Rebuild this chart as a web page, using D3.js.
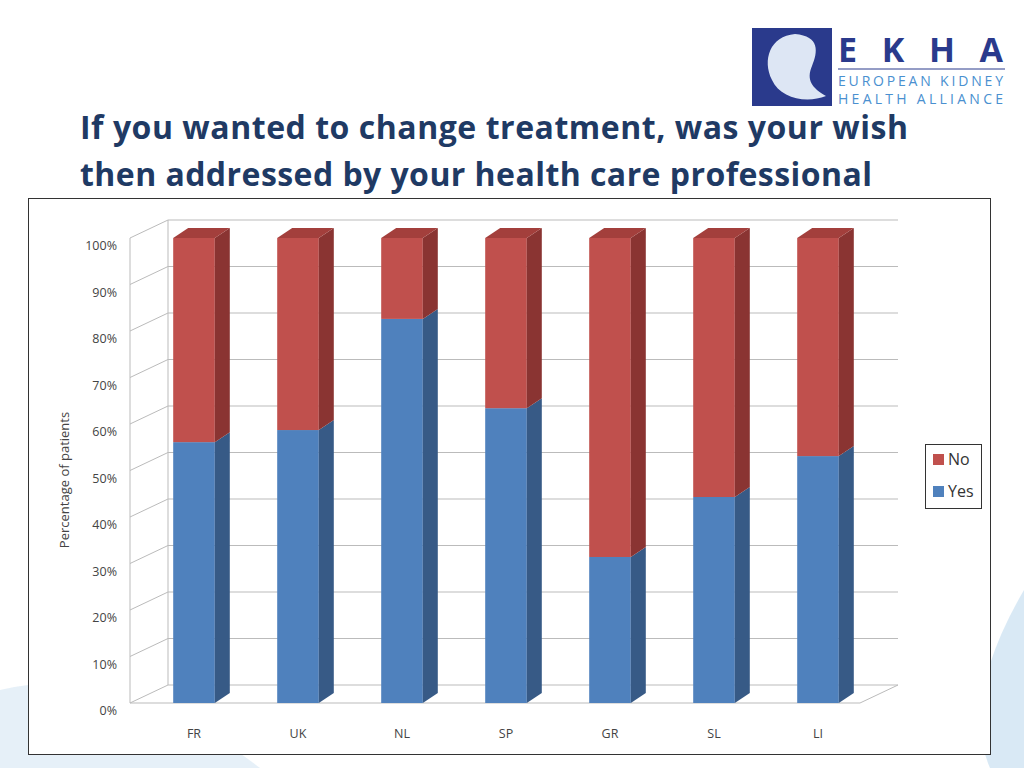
<!DOCTYPE html>
<html><head><meta charset="utf-8">
<script src="https://cdn.jsdelivr.net/npm/d3@7"></script>
<style>body{margin:0;background:#fff}svg{display:block;font-family:"Open Sans",sans-serif}</style>
</head><body><svg id="c" width="1024" height="768"></svg>
<script>
const countries = ["FR", "UK", "NL", "SP", "GR", "SL", "LI"];
const yes = [56.1, 58.7, 82.6, 63.4, 31.4, 44.3, 53.1];
const no = yes.map(v => 100 - v);
const ticks = [0, 10, 20, 30, 40, 50, 60, 70, 80, 90, 100];

const svg = d3.select("#c");

// light wave decoration in corners
svg.append("path").attr("d", "M0,690 Q120,660 260,768 L0,768Z").attr("fill", "#dbeaf5").attr("opacity", 0.7);
svg.append("path").attr("d", "M1024,590 Q960,700 990,768 L1024,768Z").attr("fill", "#cfe3f2").attr("opacity", 0.8);

// logo
const logo = svg.append("g");
logo.append("rect").attr("x", 752).attr("y", 28).attr("width", 80).attr("height", 78).attr("fill", "#2a3a8c");
logo.append("path").attr("d", "M795,34 C770,36 762,60 772,80 C780,98 806,104 826,96 C812,88 806,80 812,66 C818,52 820,36 795,34Z").attr("fill", "#dde6f4");
logo.append("text").attr("x", 838).attr("y", 62).attr("font-size", 34).attr("font-weight", 700)
  .attr("fill", "#2a3a8c").attr("textLength", 165).text("EKHA");
logo.append("line").attr("x1", 838).attr("x2", 1005).attr("y1", 69).attr("y2", 69).attr("stroke", "#2a3a8c");
logo.append("text").attr("x", 838).attr("y", 86).attr("font-size", 14).attr("fill", "#4a90d0").attr("textLength", 165).text("EUROPEAN KIDNEY");
logo.append("text").attr("x", 838).attr("y", 104).attr("font-size", 14).attr("fill", "#4a90d0").attr("textLength", 165).text("HEALTH ALLIANCE");

// title
svg.append("text").attr("x", 80).attr("y", 139).attr("font-size", 32).attr("font-weight", 700).attr("fill", "#1f3a64")
  .attr("textLength", 828).text("If you wanted to change treatment, was your wish");
svg.append("text").attr("x", 80).attr("y", 186).attr("font-size", 32).attr("font-weight", 700).attr("fill", "#1f3a64")
  .attr("textLength", 792).text("then addressed by your health care professional");

// chart frame
svg.append("rect").attr("x", 28.5).attr("y", 198.5).attr("width", 962).attr("height", 556).attr("fill", "#fff").attr("stroke", "#333");

const x = d3.scaleBand().domain(countries).range([142, 870]).paddingInner(0.6).paddingOuter(0.3);
const y = d3.scaleLinear().domain([0, 100]).range([703, 238]);
const wdx = 38, wdy = -18, x0 = 130, x1 = 860;

const g = svg.append("g");
ticks.forEach(t => {
  g.append("path").attr("d", `M${x0},${y(t)} L${x0 + wdx},${y(t) + wdy} L${x1 + wdx},${y(t) + wdy}`)
    .attr("fill", "none").attr("stroke", "#bbb");
  g.append("text").attr("x", 117).attr("y", y(t) + 12).attr("text-anchor", "end").attr("font-size", 12.5).attr("fill", "#444").text(t + "%");
});
g.append("line").attr("x1", x0 + wdx).attr("x2", x0 + wdx).attr("y1", y(0) + wdy).attr("y2", y(100) + wdy).attr("stroke", "#bbb");
g.append("line").attr("x1", x0).attr("x2", x0).attr("y1", y(0)).attr("y2", y(100)).attr("stroke", "#bbb");
g.append("line").attr("x1", x0).attr("x2", x1).attr("y1", y(0)).attr("y2", y(0)).attr("stroke", "#bbb");
g.append("line").attr("x1", x1).attr("x2", x1 + wdx).attr("y1", y(0)).attr("y2", y(0) + wdy).attr("stroke", "#bbb");

svg.append("text").attr("transform", "translate(69,480) rotate(-90)").attr("text-anchor", "middle")
  .attr("font-size", 13).attr("fill", "#444").text("Percentage of patients");

const bw = x.bandwidth(), bdx = 15, bdy = -10;
function box(x, yb, yt, front, side, top) {
  g.append("rect").attr("x", x).attr("y", yt).attr("width", bw).attr("height", yb - yt).attr("fill", front);
  g.append("path").attr("d", `M${x + bw},${yb} L${x + bw + bdx},${yb + bdy} L${x + bw + bdx},${yt + bdy} L${x + bw},${yt}Z`).attr("fill", side);
  if (top) g.append("path").attr("d", `M${x},${yt} L${x + bdx},${yt + bdy} L${x + bw + bdx},${yt + bdy} L${x + bw},${yt}Z`).attr("fill", top);
}
countries.forEach((c, i) => {
  const bx = x(c);
  box(bx, y(0), y(yes[i]), "#4f81bd", "#375a86", null);
  box(bx, y(yes[i]), y(100), "#c0504d", "#8a3432", "#a33f3c");
  g.append("text").attr("x", bx + bw / 2).attr("y", 738).attr("text-anchor", "middle").attr("font-size", 12.5).attr("fill", "#444").text(c);
});

// legend
const lg = svg.append("g");
lg.append("rect").attr("x", 925.5).attr("y", 444.5).attr("width", 56).attr("height", 64).attr("fill", "#fff").attr("stroke", "#333");
[["No", "#c0504d"], ["Yes", "#4f81bd"]].forEach(([t, col], i) => {
  lg.append("rect").attr("x", 933).attr("y", 454 + i * 32).attr("width", 11).attr("height", 11).attr("fill", col);
  lg.append("text").attr("x", 948).attr("y", 465 + i * 32).attr("font-size", 16).attr("fill", "#333").text(t);
});
</script></body></html>
